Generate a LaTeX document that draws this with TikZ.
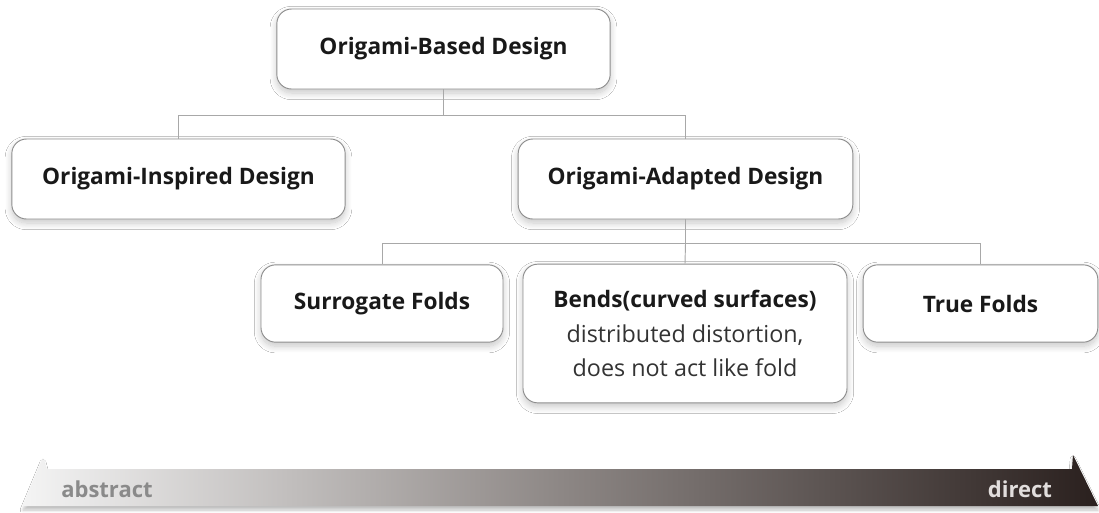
\documentclass[tikz,border=0pt]{standalone}
\usepackage{fontspec}
\setmainfont{Open Sans}
\usetikzlibrary{shadows.blur}

\definecolor{boxline}{HTML}{8E8E8E}
\definecolor{treeline}{HTML}{A8A8A8}
\definecolor{barlight}{HTML}{F4F4F4}
\definecolor{barmid}{HTML}{8D8785}
\definecolor{bardark}{HTML}{2A201E}
\definecolor{lowtext}{HTML}{8A8A8A}
\definecolor{hightext}{HTML}{E2DEDD}

\tikzset{
  box/.style={draw=boxline, fill=white, line width=0.7pt, rounded corners=11pt,
    inner sep=0pt, align=center, text=black!90,
    font=\bfseries\fontsize{17}{20}\selectfont,
    blur shadow={shadow xshift=0pt, shadow yshift=-3pt, shadow blur steps=10, shadow blur radius=5pt, shadow opacity=22}},
  link/.style={draw=treeline, line width=0.7pt},
  scale label/.style={font=\bfseries\fontsize{16.5}{18}\selectfont, anchor=base}
}

\begin{document}
\begin{tikzpicture}[x=0.75pt,y=-0.75pt]
	\useasboundingbox (0,0) rectangle (1099,512);
	\fill[white] (0,0) rectangle (1099,512);
	% tree of design classes
	\node[box, minimum width=250pt, minimum height=60pt] (based) at (443.5,49) {Origami-Based Design};
	\node[box, minimum width=250pt, minimum height=60pt] (inspired) at (178.5,179) {Origami-Inspired Design};
	\node[box, minimum width=251pt, minimum height=60pt] (adapted) at (685.5,179) {Origami-Adapted Design};
	\node[box, minimum width=181.5pt, minimum height=58pt] (surrogate) at (382,303.5) {Surrogate Folds};
	\node[box, minimum width=243pt, minimum height=104pt, font=\fontsize{17.5}{26}\selectfont] (bends) at (685,333.5)
		{{\bfseries\fontsize{17}{26}\selectfont Bends(curved surfaces)}\\ \color{black!80}distributed distortion,\\ \color{black!80}does not act like fold};
	\node[box, minimum width=176pt, minimum height=58pt] (truefolds) at (980.5,303.5) {True Folds};
	\draw[link] (based.south) -- ++(0,26) coordinate (bus1) -| (inspired.north);
	\draw[link] (bus1) -| (adapted.north);
	\draw[link] (adapted.south) -- ++(0,24) coordinate (bus2) -| (surrogate.north);
	\draw[link] (bus2) -- (bends.north);
	\draw[link] (bus2) -| (truefolds.north);
	% scale bar from abstract to direct
	\shade[left color=barlight, right color=bardark, middle color=barmid,
		blur shadow={shadow xshift=0pt, shadow yshift=-3pt, shadow blur steps=6, shadow opacity=25}]
		(23,506) -- (43,458) -- (46,469) -- (1072,469) -- (1073,455) -- (1098,506) -- cycle;
	\node[scale label, text=lowtext] (abstract) at (107,497) {abstract};
	\node[scale label, text=hightext] (direct) at (1020,497) {direct};
\end{tikzpicture}
\end{document}
